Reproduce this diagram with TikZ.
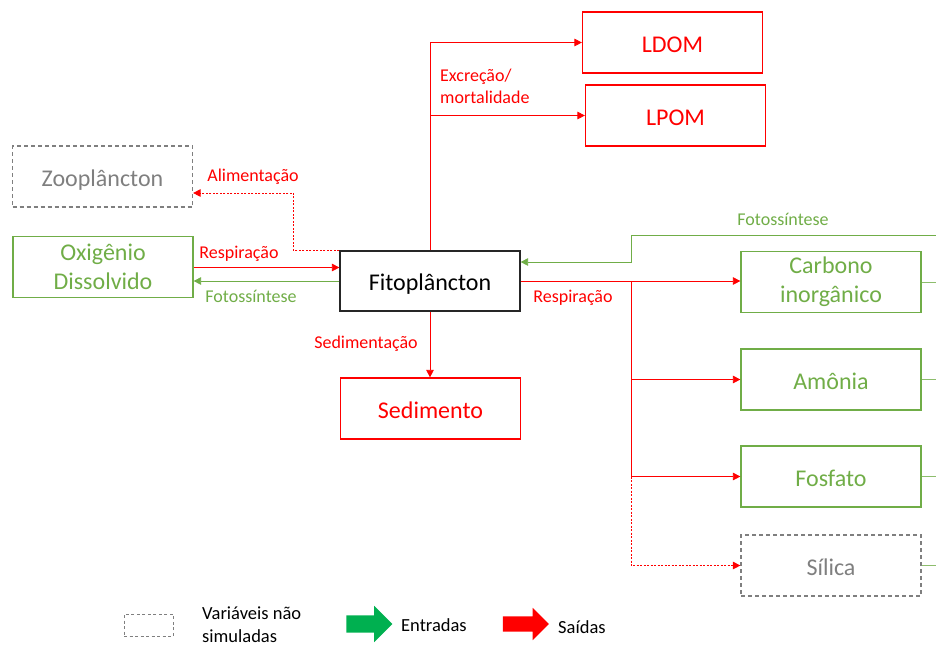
\documentclass[tikz,border=0pt]{standalone}
\usepackage{fontspec}
\setmainfont{Carlito}
\usetikzlibrary{arrows.meta,shapes.arrows}

\definecolor{outred}{HTML}{FF0000}
\definecolor{ingreen}{HTML}{70AD47}
\definecolor{nsgray}{HTML}{7F7F7F}
\definecolor{legreen}{HTML}{00B050}

\tikzset{
  box/.style={draw, line width=1.2pt, minimum width=180pt, minimum height=61pt,
    inner sep=0pt, align=center, font=\fontsize{24}{29}\selectfont},
  oneline/.style={text height=24pt, text depth=5pt},
  redbox/.style={box, draw=outred, text=outred},
  greenbox/.style={box, draw=ingreen, text=ingreen},
  graybox/.style={box, draw=nsgray, text=nsgray, dash pattern=on 4pt off 3pt},
  blackbox/.style={box, draw=black!85, text=black},
  flow/.style={line width=0.8pt, -{Triangle[length=7.5pt,width=7.5pt]}},
  redflow/.style={flow, draw=outred},
  reddot/.style={line width=0.9pt, draw=outred, dash pattern=on 2pt off 1.5pt,
    -{Triangle[length=7.5pt,width=7.5pt,fill=outred,color=outred]}},
  greenflow/.style={flow, draw=ingreen},
  greenline/.style={line width=0.8pt, draw=ingreen!80},
  lbl/.style={font=\fontsize{18}{22}\selectfont, inner sep=0pt},
  redlbl/.style={lbl, text=outred},
  greenlbl/.style={lbl, text=ingreen},
  legtext/.style={font=\fontsize{18.5}{23}\selectfont, inner sep=0pt, align=left, anchor=west},
  legarrow/.style={single arrow, minimum height=46pt, inner xsep=0pt,
    single arrow head extend=9.5pt, draw=none},
}

\begin{document}
\begin{tikzpicture}[x=1pt, y=-1pt]
\useasboundingbox (0,0) rectangle (936,646);

% compartments
\node[redbox, oneline]   (LDOM) at (672.5, 42.5)  {LDOM};
\node[redbox, oneline]   (LPOM) at (675.5, 115.5) {LPOM};
\node[graybox, oneline]  (Zoo)  at (102.5, 176.5) {Zooplâncton};
\node[greenbox]          (Oxi)  at (103, 267)     {Oxigênio\\Dissolvido};
\node[blackbox, oneline, minimum height=60pt] (Fito) at (430, 281) {Fitoplâncton};
\node[redbox, oneline]   (Sed)  at (430.5, 408.5) {Sedimento};
\node[greenbox]          (Carb) at (831, 282)     {Carbono\\inorgânico};
\node[greenbox, oneline] (Amon) at (831, 379.5)   {Amônia};
\node[greenbox, oneline] (Fosf) at (831, 476.5)   {Fosfato};
\node[graybox, oneline]  (Sil)  at (831, 565.5)   {Sílica};

% helper points
\coordinate (rim)    at (936, 0);
\coordinate (bus)    at (631, 281);
\coordinate (photoIn) at (936, 235);
\coordinate (fitoG)  at ([yshift=19pt]Fito.east);
\coordinate (fitoR)  at ([yshift=13.5pt]Fito.west);

% excretion / mortality
\draw[redflow] (Fito.north) |- (LDOM.west);
\draw[redflow] (Fito.north |- LPOM.west) -- (LPOM.west);
\node[redlbl, align=left, anchor=west] (lblExc) at (440, 86) {Excreção/\\mortalidade};

% grazing
\draw[reddot] (Fito.north west) -- ++(-46,0) |- ([yshift=-16.5pt]Zoo.east);
\node[redlbl] (lblAli) at (253, 177) {Alimentação};

% oxygen exchange
\draw[redflow] (fitoR -| Oxi.east) -- (fitoR);
\node[redlbl] (lblResL) at (239, 254) {Respiração};
\draw[greenflow] (Fito.west) -- (Fito.west -| Oxi.east);
\node[greenlbl] (lblFotL) at (251, 296) {Fotossíntese};

% sedimentation
\draw[redflow] (Fito.south) -- (Fito.south |- Sed.north);
\node[redlbl] (lblSed) at (366, 344) {Sedimentação};

% nutrient uptake
\draw[greenflow] (photoIn) -| (fitoG -| bus) -- (fitoG);
\node[greenlbl] (lblFotR) at (783, 219) {Fotossíntese};

% respiration to nutrients
\draw[redflow] (Fito.east) -- (Fito.east -| Carb.west);
\draw[redflow] (bus) |- (Amon.west);
\draw[redflow] (bus) |- (Fosf.west);
\draw[reddot] (Fosf.west -| bus) |- (Sil.west);
\node[redlbl] (lblResR) at (573, 298) {Respiração};

% outgoing stubs
\draw[greenline] (Carb.east) -- (Carb.east -| rim);
\draw[greenline] (Amon.east) -- (Amon.east -| rim);
\draw[greenline] (Fosf.east) -- (Fosf.east -| rim);
\draw[greenline] (Sil.east)  -- (Sil.east -| rim);

% legend
\node[draw=nsgray, line width=1pt, dash pattern=on 3pt off 2.5pt,
      minimum width=49pt, minimum height=22pt, inner sep=0pt] (legNS) at (148.5, 625) {};
\node[legtext] (legNStxt) at (202, 625) {Variáveis não\\simuladas};
\node[legarrow, fill=legreen, inner ysep=8.5pt] (legIn) at (365, 624) {};
\node[legtext] (legIntxt) at (401, 625) {Entradas};
\node[legarrow, fill=outred, inner ysep=7.5pt, single arrow head extend=8.5pt] (legOut) at (522, 624) {};
\node[legtext] (legOuttxt) at (558, 627) {Saídas};
\end{tikzpicture}
\end{document}
